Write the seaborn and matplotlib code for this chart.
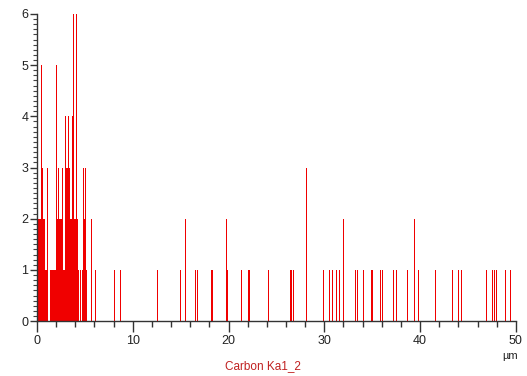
import numpy as np
import pandas as pd
import matplotlib
matplotlib.use("Agg")
import matplotlib.pyplot as plt
import seaborn as sns
from matplotlib.ticker import MultipleLocator

# Dense region: counts every 0.1 µm from 0.0 to 6.1 µm
dense_start = 0.0
dense_step = 0.1
dense_counts = [2, 4, 2, 2, 2, 5, 3, 2, 2, 1,
                1, 3, 0, 0, 1, 1, 1, 1, 1, 1,
                5, 2, 2, 3, 2, 2, 2, 3, 1, 1,
                4, 3, 3, 4, 3, 2, 2, 4, 6, 2,
                2, 6, 2, 1, 0, 1, 1, 0, 1, 3,
                2, 3, 1, 0, 0, 0, 0, 2, 0, 0,
                0, 1]

# Sparse counts beyond the dense region (position µm, count)
sparse_pos = [8.1, 8.7, 12.6, 15.0, 15.5, 16.6, 16.8, 18.2, 18.3, 19.8, 19.9,
              21.4, 22.1, 22.2, 24.2, 26.5, 26.6, 26.8, 28.1, 29.9, 30.5,
              30.8, 30.9, 31.3, 31.6, 32.0, 33.3, 33.5, 34.1, 34.9, 35.0,
              35.9, 36.1, 37.2, 37.5, 38.7, 39.4, 39.8, 40.3, 41.6, 43.4,
              44.0, 44.3, 46.9, 47.6, 47.8, 48.0, 48.9, 49.4]
sparse_counts = [1, 1, 1, 1, 2, 1, 1, 1, 1, 2, 1,
                 1, 1, 1, 1, 1, 1, 1, 3, 1, 1,
                 1, 1, 1, 1, 2, 1, 1, 1, 1, 1,
                 1, 1, 1, 1, 1, 2, 1, 1, 1, 1,
                 1, 1, 1, 1, 1, 1, 1, 1]

title = "Carbon Ka1_2"
unit = "µm"
x_ticks = [0, 10, 20, 30, 40, 50]
y_ticks = [0, 1, 2, 3, 4, 5, 6]

dense_pos = [round(dense_start + i * dense_step, 2) for i in range(len(dense_counts))]
df = pd.DataFrame({
    "pos": dense_pos + sparse_pos,
    "count": dense_counts + sparse_counts,
})

sns.set_theme(style="white")
plt.rcParams['font.family'] = ['Liberation Sans', 'DejaVu Sans']

fig = plt.figure(figsize=(5.27, 3.76), dpi=100)
ax = fig.add_axes([0.070, 0.146, 0.909, 0.817])

sns.histplot(data=df, x="pos", weights="count", binwidth=0.1,
             binrange=(-0.05, 50.05), element="bars",
             color="#f00000", alpha=1.0, linewidth=0, ax=ax)

ax.set_xlim(0, 50)
ax.set_ylim(0, 6)
ax.set_xticks(x_ticks)
ax.set_yticks(y_ticks)
ax.xaxis.set_minor_locator(MultipleLocator(2))
ax.yaxis.set_minor_locator(MultipleLocator(0.1))
ax.set_xlabel("")
ax.set_ylabel("")
for s in ["top", "right"]:
    ax.spines[s].set_visible(False)
for s in ["left", "bottom"]:
    ax.spines[s].set_color("#333333")
    ax.spines[s].set_linewidth(1.0)
    ax.spines[s].set_zorder(3)
ax.tick_params(axis="x", which="major", direction="out", length=8, width=1,
               color="#333333", labelsize=9, labelcolor="#222222", pad=2, bottom=True)
ax.tick_params(axis="x", which="minor", direction="out", length=4, width=1,
               color="#333333", bottom=True)
ax.tick_params(axis="y", which="major", direction="out", length=5, width=1,
               color="#333333", labelsize=9, labelcolor="#222222", pad=1, left=True)
ax.tick_params(axis="y", which="minor", direction="out", length=3, width=0.8,
               color="#444444", left=True)
ax.grid(False)

fig.text(510 / 527, 1 - 356 / 376, unit, ha="center", va="center",
         fontsize=8, color="#222222")
fig.text(263 / 527, 1 - 366 / 376, title, ha="center", va="center",
         fontsize=8.5, color="#c02020")

fig.savefig("out.png", dpi=100)
